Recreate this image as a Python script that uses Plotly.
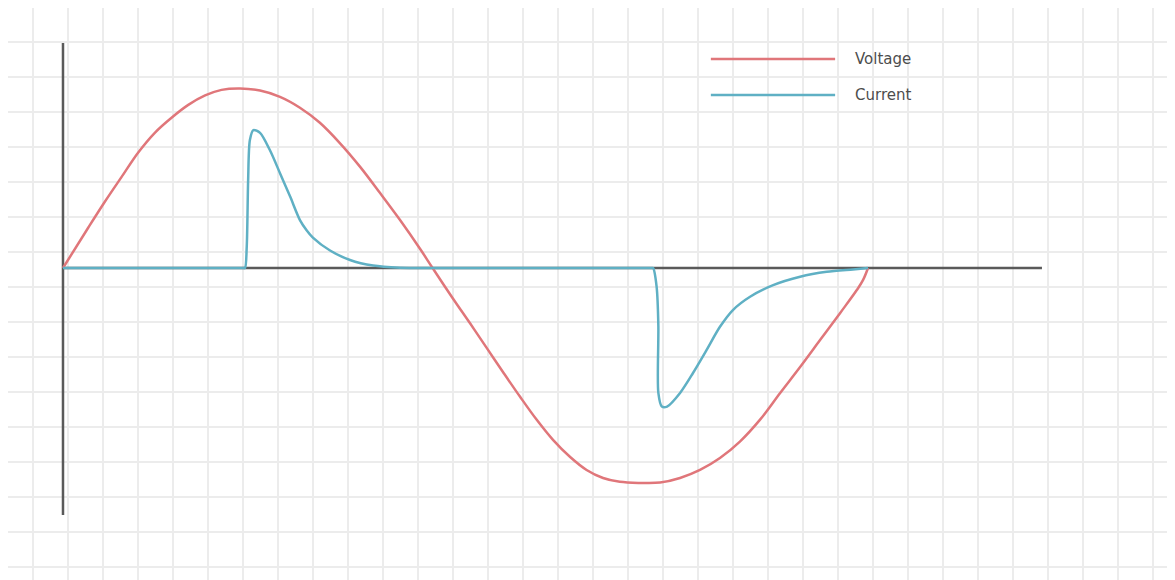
import plotly.graph_objects as go

# Data in grid units (1 unit = one grid square), origin at the axes' crossing
voltage_t = [0, 0.72, 1.2, 1.68, 2.15, 2.63, 3.11, 3.58, 4.06, 4.53, 5.06, 5.63, 6.2, 6.77,
             7.34, 7.91, 8.49, 9.06, 9.63, 10.2, 10.56, 11.14, 11.63, 12.11, 12.57, 13.06,
             13.53, 14.0, 14.49, 14.96, 15.43, 15.91, 16.49, 17.06, 17.63, 18.2, 18.77,
             19.34, 19.91, 20.49, 21.06, 21.63, 22.2, 22.68, 22.86, 23.0]
voltage_v = [0, 1.15, 1.9, 2.61, 3.3, 3.87, 4.3, 4.66, 4.93, 5.09, 5.13, 5.07, 4.89, 4.58,
             4.15, 3.57, 2.89, 2.14, 1.37, 0.55, 0, -0.87, -1.58, -2.29, -2.97, -3.68,
             -4.33, -4.91, -5.4, -5.77, -6.0, -6.11, -6.14, -6.13, -6.0, -5.77, -5.43,
             -4.96, -4.34, -3.57, -2.83, -2.06, -1.29, -0.63, -0.34, 0]

current_t = [0, 1, 2, 3, 4, 4.8, 5.15, 5.2, 5.25, 5.29, 5.34, 5.44, 5.63, 5.91, 6.2, 6.49,
             6.77, 6.96, 7.14, 7.63, 8.2, 8.86, 9.63, 10.5, 12, 13.5, 15, 16.2, 16.7, 16.82,
             16.86, 16.96, 17.01, 17.01, 17.11, 17.26, 17.63, 18.0, 18.39, 18.77, 19.14,
             19.63, 20.29, 21.06, 21.82, 22.57, 23.0]
current_i = [0, 0, 0, 0, 0, 0, 0, 0, 0.61, 2.51, 3.66, 3.94, 3.86, 3.37, 2.71, 2.04,
             1.37, 1.08, 0.87, 0.5, 0.23, 0.07, 0.01, 0, 0, 0, 0, 0, 0, 0,
             0, -0.53, -1.65, -3.57, -3.96, -3.96, -3.57, -3.0, -2.34, -1.68, -1.2,
             -0.82, -0.49, -0.25, -0.11, -0.04, 0]

axis_h_x = [0, 27.97]
axis_h_y = [0, 0]
axis_v_x = [0, 0]
axis_v_y = [6.43, -7.06]

series_names = ["Voltage", "Current"]
series_colors = ["#e0767a", "#5fb0c4"]
axis_color = "#5a5a5a"

fig = go.Figure()
fig.add_trace(go.Scatter(x=axis_h_x, y=axis_h_y, mode="lines",
                         line=dict(color=axis_color, width=2.5), showlegend=False,
                         hoverinfo="skip"))
fig.add_trace(go.Scatter(x=axis_v_x, y=axis_v_y, mode="lines",
                         line=dict(color=axis_color, width=2.5), showlegend=False,
                         hoverinfo="skip"))
fig.add_trace(go.Scatter(x=voltage_t, y=voltage_v, mode="lines", name=series_names[0],
                         line=dict(color=series_colors[0], width=2.5, shape="spline",
                                   smoothing=1.0), showlegend=False))
fig.add_trace(go.Scatter(x=current_t, y=current_i, mode="lines", name=series_names[1],
                         line=dict(color=series_colors[1], width=2.5, shape="spline",
                                   smoothing=0.8), showlegend=False))

# Manual legend (long line samples, as in the reference)
legend_y = [5.97, 4.94]
for name, color, ly in zip(series_names, series_colors, legend_y):
    fig.add_shape(type="line", x0=18.51, x1=22.06, y0=ly, y1=ly,
                  line=dict(color=color, width=2.5))
    fig.add_annotation(x=22.57, y=ly, text=name, showarrow=False, xanchor="left",
                       yanchor="middle",
                       font=dict(family="DejaVu Sans", size=15, color="#4d4d4d"))

# The page body adds an 8px margin on the top/left, so the figure is sized to fit
fig.update_layout(
    width=1160, height=572,
    margin=dict(l=0, r=0, t=0, b=0),
    paper_bgcolor="white", plot_bgcolor="white",
    xaxis=dict(range=[-1.571, 31.571], tick0=-0.857, dtick=1, showgrid=True,
               gridcolor="#ececec", gridwidth=2, zeroline=False, showticklabels=False,
               ticks="", showline=False, fixedrange=True),
    yaxis=dict(range=[-8.914, 7.429], tick0=0.457, dtick=1, showgrid=True,
               gridcolor="#ececec", gridwidth=2, zeroline=False, showticklabels=False,
               ticks="", showline=False, fixedrange=True),
    showlegend=False,
)

fig.write_html("out.html")
